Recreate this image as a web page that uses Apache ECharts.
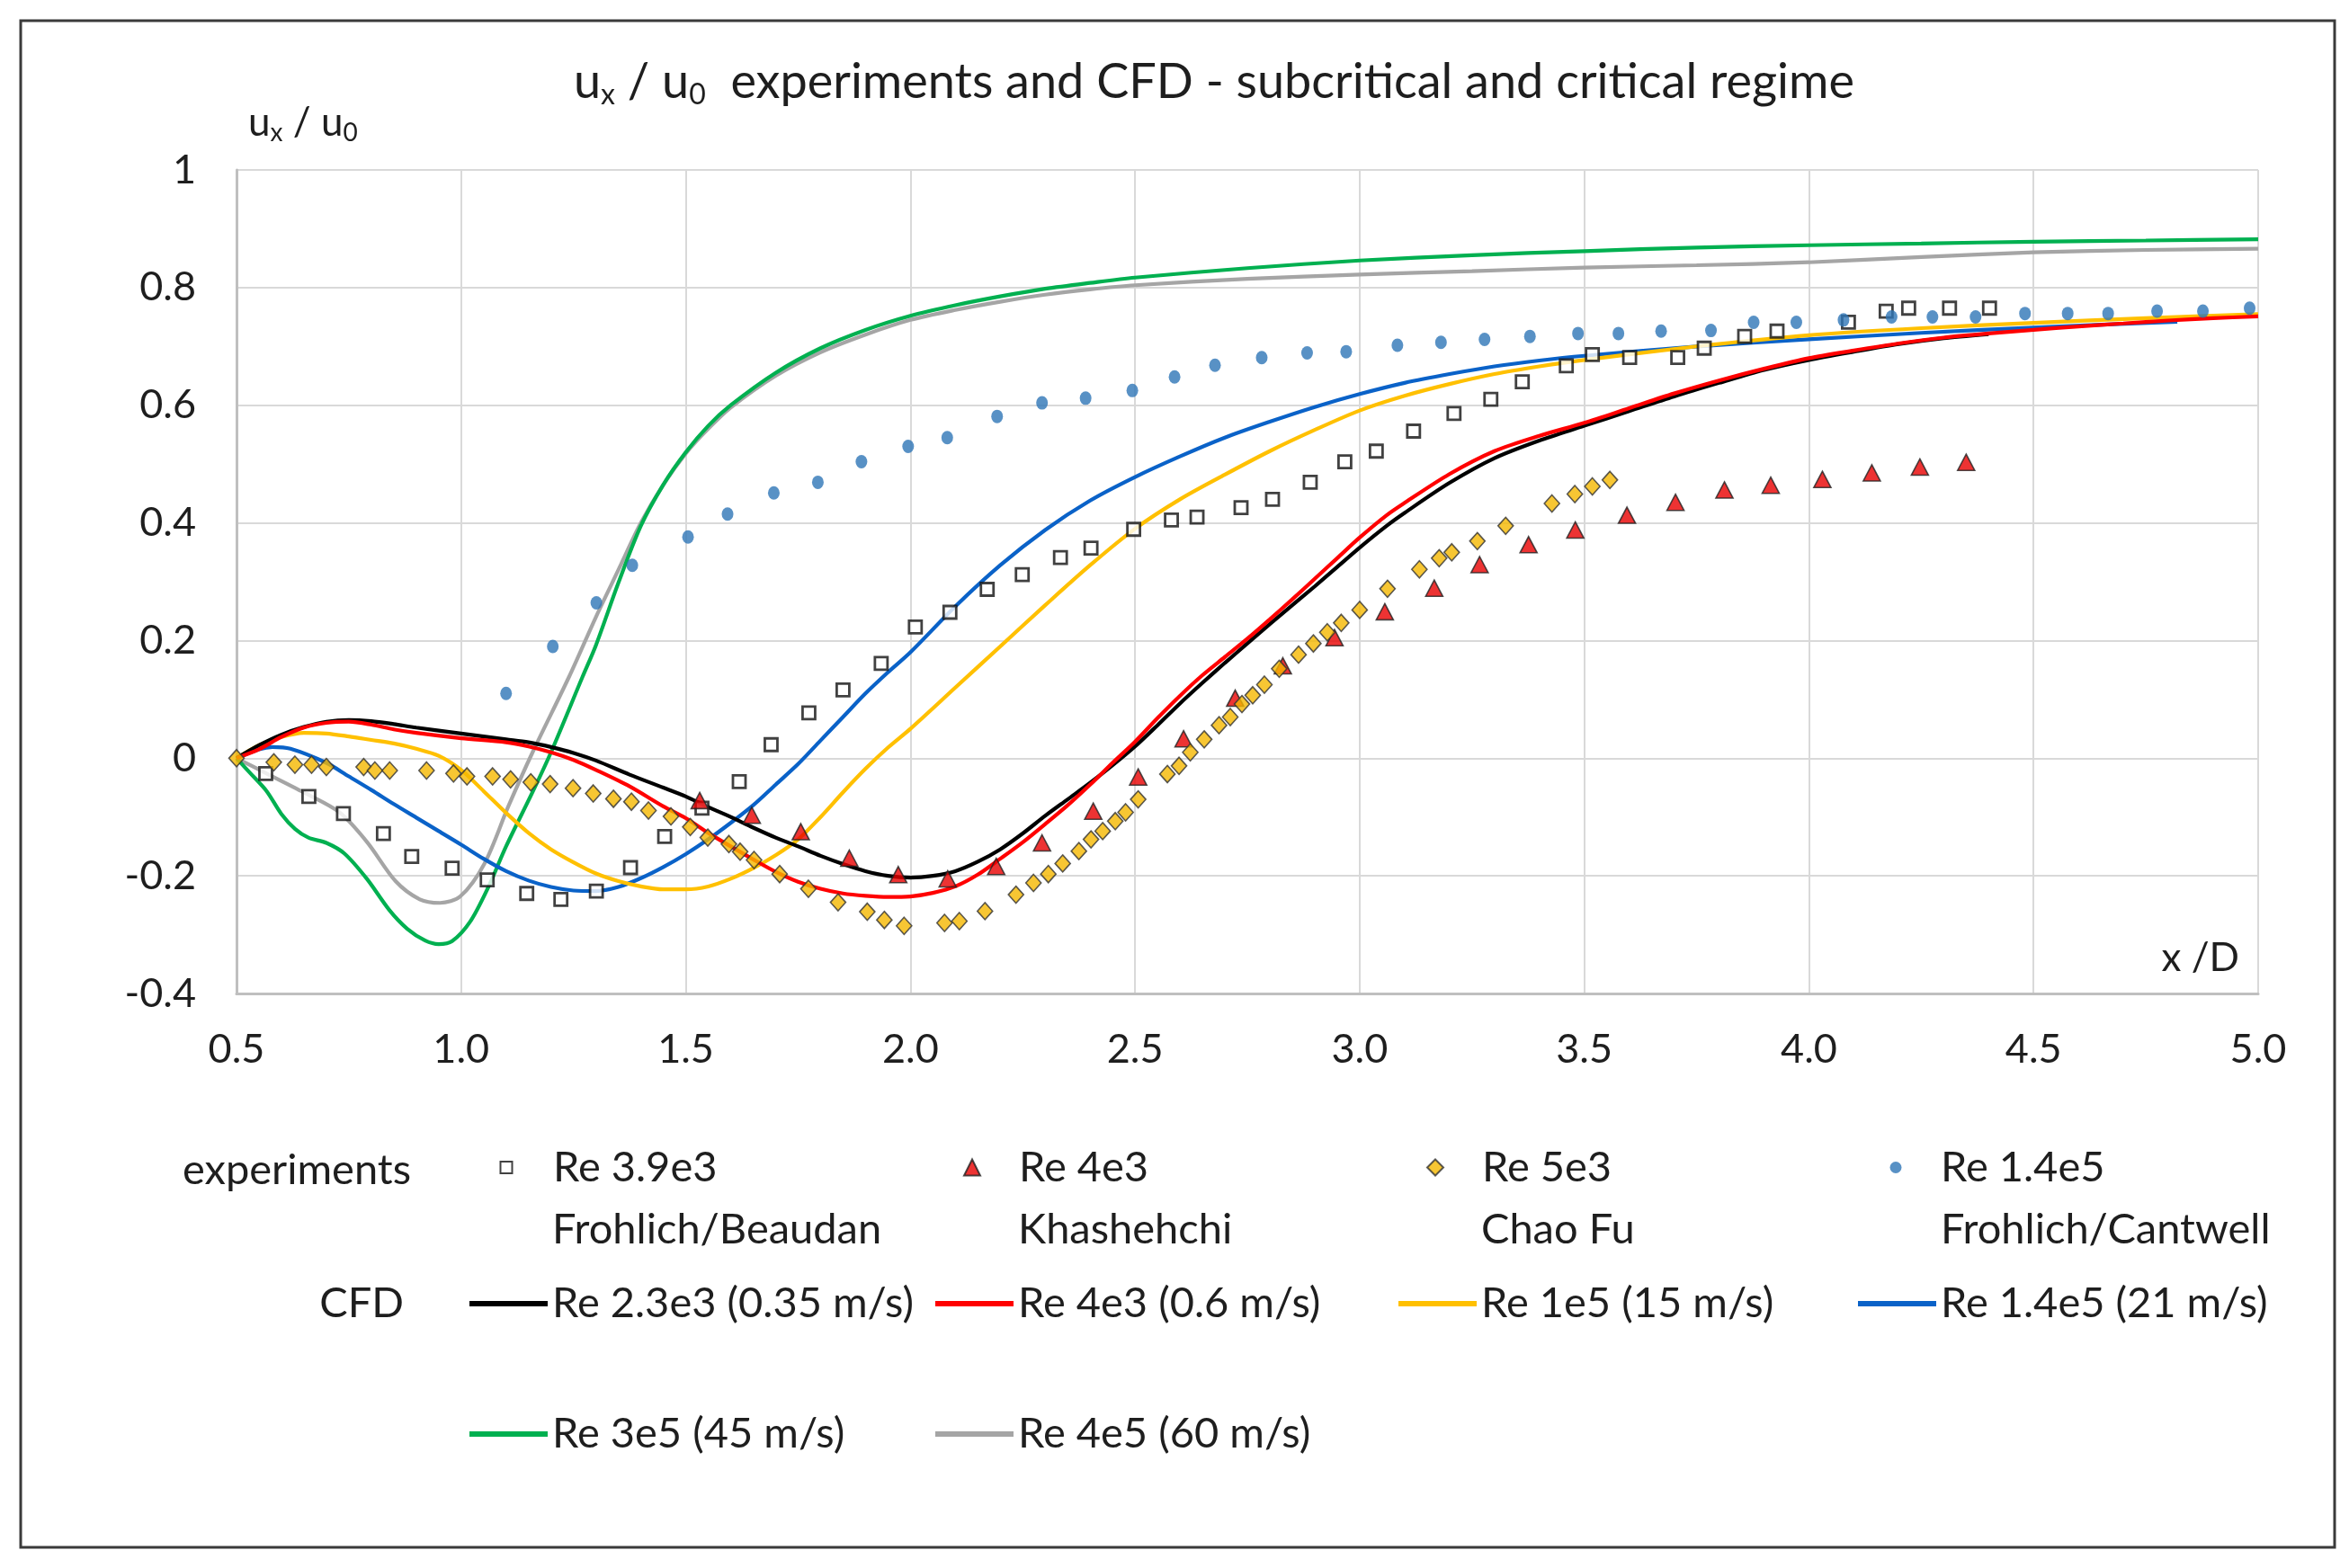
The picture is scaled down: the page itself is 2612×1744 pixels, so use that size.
<!DOCTYPE html>
<html>
<head>
<meta charset="utf-8">
<script src="https://cdn.jsdelivr.net/npm/echarts@6/dist/echarts.min.js"></script>
<style>
html,body{margin:0;padding:0;background:#fff;}
#c{width:2612px;height:1744px;}
</style>
</head>
<body>
<div id="c"></div>
<script>
// ---------- tick settings ----------
const xTicks = {min: 0.5, max: 5.0, interval: 0.5};
const yTicks = {min: -0.4, max: 1.0, interval: 0.2};

// ---------- experiments ----------
const expRe3_9e3 = [[0.565,-0.026],[0.661,-0.065],[0.738,-0.094],[0.827,-0.128],[0.890,-0.167],[0.980,-0.187],[1.058,-0.207],[1.146,-0.230],[1.222,-0.240],[1.301,-0.226],[1.377,-0.186],[1.453,-0.133],[1.536,-0.085],[1.619,-0.040],[1.690,0.023],[1.774,0.077],[1.850,0.116],[1.935,0.161],[2.011,0.223],[2.088,0.248],[2.171,0.287],[2.249,0.312],[2.334,0.341],[2.402,0.357],[2.497,0.389],[2.581,0.405],[2.638,0.410],[2.736,0.426],[2.806,0.440],[2.890,0.469],[2.967,0.504],[3.037,0.522],[3.120,0.556],[3.210,0.586],[3.292,0.610],[3.362,0.640],[3.460,0.667],[3.518,0.686],[3.601,0.681],[3.708,0.681],[3.767,0.697],[3.857,0.717],[3.929,0.726],[4.088,0.741],[4.172,0.760],[4.222,0.765],[4.313,0.765],[4.402,0.765]];

const expRe4e3 = [[1.531,-0.072],[1.647,-0.097],[1.756,-0.125],[1.864,-0.170],[1.973,-0.198],[2.083,-0.205],[2.191,-0.184],[2.293,-0.144],[2.407,-0.090],[2.507,-0.032],[2.608,0.033],[2.723,0.102],[2.829,0.157],[2.944,0.205],[3.056,0.249],[3.166,0.289],[3.267,0.329],[3.376,0.363],[3.480,0.388],[3.595,0.413],[3.703,0.435],[3.812,0.456],[3.915,0.464],[4.030,0.474],[4.140,0.485],[4.247,0.495],[4.350,0.503]];

const expRe5e3 = [[0.500,0.000],[0.583,-0.007],[0.630,-0.011],[0.667,-0.011],[0.700,-0.015],[0.783,-0.015],[0.808,-0.021],[0.841,-0.021],[0.923,-0.021],[0.983,-0.026],[1.013,-0.031],[1.070,-0.031],[1.110,-0.036],[1.155,-0.041],[1.198,-0.044],[1.249,-0.051],[1.294,-0.060],[1.339,-0.069],[1.379,-0.074],[1.417,-0.089],[1.467,-0.099],[1.510,-0.117],[1.549,-0.135],[1.596,-0.146],[1.621,-0.159],[1.652,-0.173],[1.709,-0.197],[1.773,-0.222],[1.839,-0.245],[1.904,-0.261],[1.942,-0.275],[1.986,-0.285],[2.076,-0.280],[2.109,-0.277],[2.166,-0.260],[2.235,-0.232],[2.274,-0.212],[2.307,-0.197],[2.339,-0.179],[2.375,-0.158],[2.402,-0.138],[2.428,-0.124],[2.456,-0.107],[2.479,-0.092],[2.507,-0.070],[2.572,-0.027],[2.598,-0.013],[2.623,0.010],[2.654,0.032],[2.687,0.056],[2.712,0.070],[2.738,0.092],[2.762,0.107],[2.788,0.125],[2.821,0.152],[2.864,0.176],[2.897,0.195],[2.928,0.214],[2.959,0.230],[3.000,0.252],[3.062,0.288],[3.133,0.321],[3.177,0.340],[3.205,0.350],[3.262,0.369],[3.325,0.395],[3.428,0.433],[3.479,0.449],[3.518,0.462],[3.557,0.473]];

const expRe1_4e5 = [[1.100,0.110],[1.204,0.190],[1.301,0.264],[1.381,0.328],[1.505,0.376],[1.593,0.415],[1.696,0.451],[1.794,0.469],[1.891,0.504],[1.995,0.530],[2.082,0.545],[2.193,0.581],[2.293,0.604],[2.390,0.612],[2.494,0.625],[2.588,0.648],[2.678,0.668],[2.782,0.681],[2.883,0.689],[2.970,0.691],[3.084,0.702],[3.181,0.707],[3.278,0.712],[3.379,0.717],[3.486,0.722],[3.576,0.722],[3.671,0.726],[3.782,0.727],[3.877,0.741],[3.972,0.741],[4.077,0.745],[4.184,0.750],[4.275,0.750],[4.371,0.750],[4.481,0.756],[4.576,0.756],[4.666,0.756],[4.775,0.760],[4.877,0.760],[4.981,0.765]];

// ---------- CFD ----------
const cfdRe2_3e3 = [[0.50,0.000],[0.55,0.022],[0.60,0.040],[0.65,0.053],[0.70,0.062],[0.75,0.065],[0.80,0.063],[0.85,0.058],[0.90,0.052],[1.00,0.042],[1.10,0.032],[1.15,0.027],[1.20,0.019],[1.25,0.009],[1.30,-0.004],[1.375,-0.028],[1.45,-0.050],[1.50,-0.065],[1.55,-0.083],[1.60,-0.100],[1.65,-0.118],[1.70,-0.135],[1.75,-0.150],[1.80,-0.166],[1.85,-0.180],[1.90,-0.192],[1.95,-0.200],[2.00,-0.203],[2.05,-0.200],[2.10,-0.192],[2.15,-0.176],[2.20,-0.155],[2.25,-0.128],[2.30,-0.098],[2.35,-0.070],[2.40,-0.042],[2.45,-0.012],[2.50,0.020],[2.55,0.056],[2.60,0.093],[2.65,0.128],[2.70,0.162],[2.75,0.195],[2.80,0.228],[2.85,0.260],[2.90,0.292],[2.95,0.325],[3.00,0.358],[3.06,0.395],[3.10,0.417],[3.20,0.468],[3.30,0.510],[3.40,0.540],[3.50,0.565],[3.60,0.590],[3.70,0.615],[3.80,0.638],[3.90,0.660],[4.00,0.677],[4.10,0.691],[4.20,0.704],[4.30,0.714],[4.40,0.721]];

const cfdRe4e3 = [[0.50,0.000],[0.55,0.015],[0.60,0.036],[0.65,0.052],[0.70,0.060],[0.75,0.062],[0.80,0.057],[0.85,0.049],[0.90,0.043],[1.00,0.034],[1.10,0.027],[1.15,0.020],[1.20,0.010],[1.25,-0.003],[1.30,-0.020],[1.375,-0.048],[1.45,-0.082],[1.50,-0.102],[1.55,-0.127],[1.60,-0.150],[1.65,-0.172],[1.70,-0.193],[1.75,-0.210],[1.80,-0.222],[1.85,-0.230],[1.90,-0.234],[1.95,-0.236],[2.00,-0.235],[2.05,-0.229],[2.10,-0.218],[2.15,-0.198],[2.20,-0.171],[2.25,-0.143],[2.30,-0.112],[2.35,-0.080],[2.40,-0.045],[2.45,-0.008],[2.50,0.028],[2.55,0.068],[2.60,0.106],[2.65,0.141],[2.70,0.172],[2.75,0.203],[2.80,0.236],[2.85,0.270],[2.90,0.305],[2.95,0.340],[3.00,0.375],[3.06,0.413],[3.10,0.434],[3.20,0.483],[3.30,0.522],[3.40,0.548],[3.50,0.570],[3.60,0.595],[3.70,0.620],[3.80,0.642],[3.90,0.662],[4.00,0.680],[4.10,0.693],[4.20,0.705],[4.30,0.715],[4.40,0.722],[4.50,0.728],[4.60,0.734],[4.70,0.739],[4.80,0.744],[4.90,0.748],[5.00,0.751]];

const cfdRe1e5 = [[0.50,0.000],[0.55,0.022],[0.60,0.036],[0.65,0.043],[0.70,0.042],[0.75,0.037],[0.80,0.031],[0.85,0.025],[0.90,0.016],[0.95,0.004],[1.00,-0.020],[1.05,-0.056],[1.10,-0.093],[1.15,-0.127],[1.20,-0.155],[1.25,-0.177],[1.30,-0.196],[1.35,-0.209],[1.40,-0.218],[1.45,-0.223],[1.50,-0.223],[1.55,-0.218],[1.60,-0.205],[1.65,-0.187],[1.70,-0.165],[1.75,-0.138],[1.80,-0.100],[1.85,-0.058],[1.90,-0.018],[1.95,0.018],[2.00,0.050],[2.10,0.120],[2.20,0.190],[2.30,0.260],[2.40,0.328],[2.50,0.390],[2.60,0.440],[2.70,0.482],[2.80,0.522],[2.90,0.558],[3.00,0.591],[3.10,0.616],[3.20,0.636],[3.30,0.653],[3.40,0.666],[3.50,0.677],[3.75,0.700],[4.00,0.719],[4.25,0.731],[4.50,0.740],[4.75,0.748],[5.00,0.755]];

const cfdRe1_4e5 = [[0.50,0.000],[0.55,0.015],[0.58,0.019],[0.62,0.016],[0.70,-0.008],[0.75,-0.031],[0.80,-0.054],[0.85,-0.078],[0.90,-0.101],[0.95,-0.124],[1.00,-0.147],[1.05,-0.171],[1.10,-0.192],[1.15,-0.208],[1.20,-0.219],[1.25,-0.225],[1.30,-0.226],[1.35,-0.219],[1.40,-0.204],[1.45,-0.185],[1.50,-0.163],[1.55,-0.138],[1.60,-0.110],[1.65,-0.080],[1.70,-0.045],[1.75,-0.010],[1.80,0.030],[1.85,0.070],[1.90,0.110],[1.95,0.146],[2.00,0.180],[2.10,0.258],[2.20,0.328],[2.30,0.388],[2.40,0.438],[2.50,0.478],[2.60,0.513],[2.70,0.545],[2.80,0.572],[2.90,0.597],[3.00,0.619],[3.10,0.638],[3.20,0.653],[3.30,0.666],[3.40,0.676],[3.50,0.684],[3.75,0.700],[4.00,0.712],[4.25,0.723],[4.50,0.732],[4.82,0.742]];

const cfdRe3e5 = [[0.50,0.000],[0.53,-0.025],[0.567,-0.056],[0.60,-0.095],[0.63,-0.120],[0.66,-0.135],[0.70,-0.144],[0.74,-0.162],[0.79,-0.205],[0.84,-0.258],[0.88,-0.290],[0.92,-0.310],[0.95,-0.316],[0.98,-0.311],[1.02,-0.278],[1.06,-0.220],[1.10,-0.150],[1.16,-0.056],[1.20,0.010],[1.27,0.138],[1.30,0.192],[1.35,0.298],[1.40,0.395],[1.45,0.465],[1.50,0.520],[1.55,0.565],[1.60,0.600],[1.70,0.655],[1.80,0.697],[1.90,0.728],[2.00,0.752],[2.10,0.770],[2.20,0.785],[2.30,0.798],[2.40,0.808],[2.50,0.817],[2.75,0.833],[3.00,0.846],[3.25,0.855],[3.50,0.862],[3.75,0.868],[4.00,0.872],[4.25,0.875],[4.50,0.878],[4.75,0.880],[5.00,0.882]];

const cfdRe4e5 = [[0.50,0.000],[0.567,-0.026],[0.657,-0.061],[0.729,-0.092],[0.791,-0.143],[0.854,-0.209],[0.908,-0.240],[0.953,-0.246],[0.998,-0.235],[1.052,-0.179],[1.105,-0.082],[1.159,0.010],[1.24,0.138],[1.30,0.240],[1.35,0.320],[1.40,0.400],[1.45,0.465],[1.50,0.518],[1.55,0.560],[1.60,0.596],[1.70,0.650],[1.80,0.690],[1.90,0.720],[2.00,0.745],[2.10,0.762],[2.20,0.776],[2.30,0.788],[2.40,0.797],[2.50,0.804],[2.75,0.815],[3.00,0.822],[3.25,0.828],[3.50,0.834],[3.75,0.838],[4.00,0.843],[4.25,0.852],[4.50,0.860],[4.75,0.864],[5.00,0.866]];

// ---------- labels ----------
const titleText = '  experiments and CFD - subcritical and critical regime';
const expNames = ['Re 3.9e3', 'Re 4e3', 'Re 5e3', 'Re 1.4e5'];
const expAuthors = ['Frohlich/Beaudan', 'Khashehchi', 'Chao Fu', 'Frohlich/Cantwell'];
const cfdNames = ['Re 2.3e3 (0.35 m/s)', 'Re 4e3 (0.6 m/s)', 'Re 1e5 (15 m/s)', 'Re 1.4e5 (21 m/s)', 'Re 3e5 (45 m/s)', 'Re 4e5 (60 m/s)'];

const FONT = 'Lato, "Open Sans", sans-serif';
const TXT = '#1e1e1e';
const LFS = 47;
const TFS = 45;

function lineSeries(name, data, color) {
  return {name, type: 'line', data, color, smooth: 0.3, showSymbol: false, symbol: 'none',
    lineStyle: {color, width: 4.2}, itemStyle: {color}, z: 2, silent: true};
}

const series = [
  lineSeries(cfdNames[5], cfdRe4e5, '#a5a5a5'),
  lineSeries(cfdNames[4], cfdRe3e5, '#00b050'),
  lineSeries(cfdNames[3], cfdRe1_4e5, '#0a62c8'),
  lineSeries(cfdNames[2], cfdRe1e5, '#ffc000'),
  lineSeries(cfdNames[0], cfdRe2_3e3, '#000000'),
  lineSeries(cfdNames[1], cfdRe4e3, '#ff0000'),
  {name: expNames[0], type: 'scatter', data: expRe3_9e3, symbol: 'rect', symbolSize: 14,
    itemStyle: {color: '#ffffff', borderColor: '#111', borderWidth: 2.8}, z: 3, silent: true},
  {name: expNames[1], type: 'scatter', data: expRe4e3, symbol: 'triangle', symbolSize: [19, 18],
    itemStyle: {color: '#e80000', borderColor: '#222', borderWidth: 1.6}, z: 3, silent: true},
  {name: expNames[2], type: 'scatter', data: expRe5e3, symbol: 'diamond', symbolSize: [17, 19],
    itemStyle: {color: '#f5b800', borderColor: '#333', borderWidth: 1.6}, z: 3, silent: true},
  {name: expNames[3], type: 'scatter', data: expRe1_4e5, symbol: 'circle', symbolSize: [13, 15],
    itemStyle: {color: '#2e75b6'}, z: 3, silent: true}
];

function scatterLegend(name, cx, size, textLeft, cy) {
  const pad = textLeft - (cx + size / 2 + 5);
  return {data: [name], left: cx - size / 2, top: cy - 27, itemWidth: size, itemHeight: size,
    padding: 0, selectedMode: false, formatter: '{t|{name}}',
    textStyle: {rich: {t: {fontSize: LFS, fontFamily: FONT, color: TXT, lineHeight: 54, padding: [0, 0, 0, pad]}}}};
}
function lineLegend(name, left, cy) {
  return {data: [name], left, top: cy - 27, itemWidth: 87, itemHeight: 6, icon: 'rect',
    padding: 0, selectedMode: false,
    textStyle: {fontSize: LFS, fontFamily: FONT, color: TXT, lineHeight: 54}};
}

const row1 = 1302, row2 = 1368, row3 = 1450, row4 = 1595;
const colText = [614, 1132, 1647, 2158];
const colMark = [562, 1080, 1595, 2108];
const legends = [
  scatterLegend(expNames[0], colMark[0], 13, colText[0], row1),
  scatterLegend(expNames[1], colMark[1], 18, colText[1], row1),
  scatterLegend(expNames[2], colMark[2], 18, colText[2], row1),
  scatterLegend(expNames[3], colMark[3], 13, colText[3], row1),
  lineLegend(cfdNames[0], colText[0] - 92, row3),
  lineLegend(cfdNames[1], colText[1] - 92, row3),
  lineLegend(cfdNames[2], colText[2] - 92, row3),
  lineLegend(cfdNames[3], colText[3] - 92, row3),
  lineLegend(cfdNames[4], colText[0] - 92, row4),
  lineLegend(cfdNames[5], colText[1] - 92, row4)
];

function txt(text, x, y, align, size) {
  return {type: 'text', x, y, silent: true, z: 10,
    style: {text, fontSize: size || LFS, fontFamily: FONT, fill: TXT, align: align || 'left', verticalAlign: 'middle'}};
}

const graphic = [
  {type: 'rect', shape: {x: 23, y: 23, width: 2573, height: 1698}, silent: true, z: -10,
    style: {fill: 'none', stroke: '#3a3a3a', lineWidth: 3}},
  {type: 'text', x: 1350, y: 92, silent: true, z: 10,
    style: {text: '{u|u}{s|x}{u| / u}{s|0}{u|' + titleText + '}', align: 'center', verticalAlign: 'middle',
      rich: {u: {fontSize: 54, fontFamily: FONT, fill: TXT, lineHeight: 60},
             s: {fontSize: 32, fontFamily: FONT, fill: TXT, lineHeight: 32, verticalAlign: 'bottom'}}}},
  {type: 'text', x: 276, y: 137, silent: true, z: 10,
    style: {text: '{u|u}{s|x}{u| / u}{s|0}', align: 'left', verticalAlign: 'middle',
      rich: {u: {fontSize: 44, fontFamily: FONT, fill: TXT, lineHeight: 50},
             s: {fontSize: 28, fontFamily: FONT, fill: TXT, lineHeight: 28, verticalAlign: 'bottom'}}}},
  txt('experiments', 457, row1, 'right'),
  txt('CFD', 449, row3, 'right'),
  txt(expAuthors[0], colText[0], row2),
  txt(expAuthors[1], colText[1], row2),
  txt(expAuthors[2], colText[2], row2),
  txt(expAuthors[3], colText[3], row2),
  {type: 'text', x: 2496, y: 1066, silent: true, z: 10,
    style: {text: 'x /D', fontSize: 44, fontFamily: FONT, fill: TXT, align: 'right', verticalAlign: 'middle',
      backgroundColor: '#ffffff', padding: [6, 6, 6, 10]}}
];

const chart = echarts.init(document.getElementById('c'), null, {renderer: 'canvas'});
chart.setOption({
  animation: false,
  backgroundColor: '#ffffff',
  grid: {left: 263, top: 189, width: 2248, height: 916, containLabel: false, outerBoundsMode: 'none'},
  xAxis: {type: 'value', min: xTicks.min, max: xTicks.max, interval: xTicks.interval,
    axisLine: {show: true, onZero: false, lineStyle: {color: '#bfbfbf', width: 3}},
    axisTick: {show: false},
    splitLine: {show: true, lineStyle: {color: '#d9d9d9', width: 2}},
    axisLabel: {margin: 40, fontSize: TFS, fontFamily: FONT, color: TXT, formatter: v => v.toFixed(1)}},
  yAxis: {type: 'value', min: yTicks.min, max: yTicks.max, interval: yTicks.interval,
    axisLine: {show: true, onZero: false, lineStyle: {color: '#bfbfbf', width: 3}},
    axisTick: {show: false},
    splitLine: {show: true, lineStyle: {color: '#d9d9d9', width: 2}},
    axisLabel: {margin: 45, fontSize: TFS, fontFamily: FONT, color: TXT,
      formatter: v => (Math.abs(v) < 1e-9 ? '0' : (Math.abs(v - 1) < 1e-9 ? '1' : v.toFixed(1)))}},
  legend: legends,
  graphic: graphic,
  series: series
});
</script>
</body>
</html>
